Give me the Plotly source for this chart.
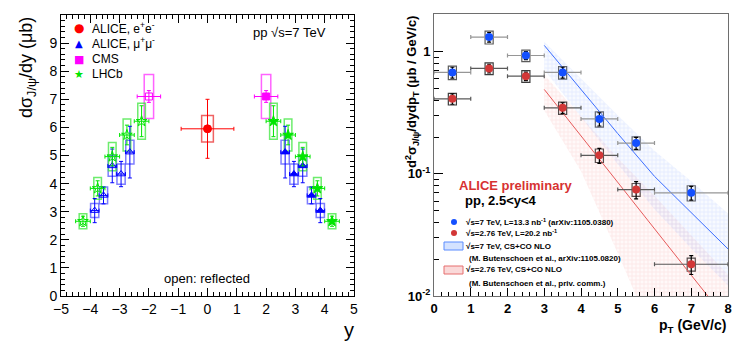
import plotly.graph_objects as go

W, H = 747, 353
OFF = 8  # the page body adds an 8 px margin, so the figure is drawn 8 px smaller
FW, FH = W - OFF, H - OFF

# ---------- left panel: dsigma/dy vs y, pp sqrt(s)=7 TeV ----------
ee_y = [0.0]
ee_val = [5.95]
ee_stat = [1.05]
ee_sys = [0.47]
ee_xerr = [0.9]

mumu_y = [2.65, 2.95, 3.25, 3.55, 3.85]
mumu_val = [5.12, 4.34, 4.63, 3.58, 3.04]
mumu_stat = [0.92, 0.45, 0.6, 0.3, 0.43]
mumu_sys = [0.42, 0.36, 0.37, 0.3, 0.25]
mumu_xerr = [0.15, 0.15, 0.15, 0.15, 0.15]

cms_y = [2.0]
cms_val = [7.1]
cms_stat = [0.21]
cms_sys = [0.78]
cms_xerr = [0.4]

lhcb_y = [2.25, 2.75, 3.25, 3.75, 4.25]
lhcb_val = [6.22, 5.73, 4.96, 3.83, 2.66]
lhcb_stat = [0.55, 0.35, 0.33, 0.27, 0.18]
lhcb_sys = [0.64, 0.57, 0.5, 0.39, 0.27]
lhcb_xerr = [0.25, 0.25, 0.25, 0.25, 0.25]

# ---------- right panel: d2sigma/dydpT vs pT, 2.5<y<4 ----------
pt = [0.5, 1.5, 2.5, 3.5, 4.5, 5.5, 7.0]
pt_err = [0.5, 0.5, 0.5, 0.5, 0.5, 0.5, 1.0]

s7_val = [0.678, 1.32, 0.933, 0.678, 0.282, 0.179, 0.070]
s7_stat = [0.07, 0.12, 0.07, 0.07, 0.035, 0.02, 0.009]
s7_sys = [0.085, 0.16, 0.10, 0.08, 0.04, 0.022, 0.010]

s276_val = [0.412, 0.731, 0.632, 0.348, 0.142, 0.0745, 0.0182]
s276_stat = [0.04, 0.06, 0.05, 0.035, 0.02, 0.012, 0.0032]
s276_sys = [0.045, 0.08, 0.07, 0.04, 0.018, 0.009, 0.0022]

# NLO CS+CO bands
pt_nlo = [3, 4, 5, 6, 7, 8]
nlo7_mid = [1.13, 0.49, 0.214, 0.0955, 0.0478, 0.0243]
nlo7_hi = [1.21, 0.603, 0.302, 0.155, 0.087, 0.0474]
nlo7_lo = [0.713, 0.295, 0.120, 0.0513, 0.0245, 0.0122]
nlo276_mid = [0.492, 0.204, 0.0851, 0.0355, 0.0148, 0.0062]
nlo276_hi = [0.649, 0.295, 0.135, 0.0661, 0.0316, 0.0149]
nlo276_lo = [0.331, 0.105, 0.0224, 0.0045, 0.0010, 0.0003]

FONT = "Liberation Sans"

fig = go.Figure()


def px_x(p):
    return (p - OFF) / FW


def px_y(p):
    return 1 - (p - OFF) / FH


def rapidity_series(y, val, stat, sys, xerr, color, box_color, symbol, size, box_w, reflect=True):
    sides = [(1, symbol)]
    if reflect:
        sides.append((-1, symbol + "-open"))
    for sign, sym in sides:
        ys = [sign * v for v in y]
        fig.add_trace(go.Bar(
            x=ys, y=[2 * s for s in sys], base=[v - s for v, s in zip(val, sys)],
            width=box_w, marker=dict(color="rgba(0,0,0,0)", line=dict(color=box_color, width=1.5)),
            xaxis="x", yaxis="y", showlegend=False, hoverinfo="skip"))
        fig.add_trace(go.Scatter(
            x=ys, y=val, mode="markers",
            marker=dict(symbol=sym, size=size, color=color, line=dict(color=color, width=1)),
            error_y=dict(type="data", array=stat, color=color, thickness=1, width=2),
            error_x=dict(type="data", array=xerr, color=color, thickness=1, width=2),
            xaxis="x", yaxis="y", showlegend=False))


rapidity_series(ee_y, ee_val, ee_stat, ee_sys, ee_xerr, "rgb(255,0,0)", "rgba(235,60,60,0.8)",
                "circle", 8, 0.4, reflect=False)
rapidity_series(mumu_y, mumu_val, mumu_stat, mumu_sys, mumu_xerr, "rgb(0,0,255)", "rgba(70,70,255,0.7)",
                "triangle-up", 7, 0.28)
rapidity_series(cms_y, cms_val, cms_stat, cms_sys, cms_xerr, "rgb(255,0,255)", "rgba(255,60,255,0.8)",
                "square", 7, 0.32)
rapidity_series(lhcb_y, lhcb_val, lhcb_stat, lhcb_sys, lhcb_xerr, "rgb(0,230,0)", "rgba(60,230,60,0.75)",
                "star", 8, 0.26)


# theory bands
def band(mid, hi, lo, fg, bg, line_color):
    fig.add_trace(go.Scatter(
        x=pt_nlo + pt_nlo[::-1], y=hi + lo[::-1], fill="toself", mode="lines",
        line=dict(width=0), fillcolor=bg,
        fillpattern=dict(shape="+", fgcolor=fg, bgcolor=bg, size=4, solidity=0.35),
        xaxis="x2", yaxis="y2", showlegend=False, hoverinfo="skip"))
    fig.add_trace(go.Scatter(x=pt_nlo, y=mid, mode="lines", line=dict(color=line_color, width=1),
                             xaxis="x2", yaxis="y2", showlegend=False))


band(nlo276_mid, nlo276_hi, nlo276_lo, "rgba(235,120,120,0.32)", "rgba(245,170,170,0.08)", "rgb(230,90,90)")
band(nlo7_mid, nlo7_hi, nlo7_lo, "rgba(110,150,255,0.32)", "rgba(160,190,255,0.08)", "rgb(60,110,255)")


def pt_series(val, stat, sys, color, xcolor, box_color):
    fig.add_trace(go.Bar(
        x=pt, y=[2 * s for s in sys], base=[v - s for v, s in zip(val, sys)], width=0.22,
        marker=dict(color="rgba(0,0,0,0)", line=dict(color=box_color, width=1.2)),
        xaxis="x2", yaxis="y2", showlegend=False, hoverinfo="skip"))
    fig.add_trace(go.Scatter(
        x=pt, y=val, mode="markers", marker=dict(symbol="circle", size=8, color=color),
        error_y=dict(type="data", array=stat, color="black", thickness=1.2, width=2),
        error_x=dict(type="data", array=pt_err, color=xcolor, thickness=1.2, width=2),
        xaxis="x2", yaxis="y2", showlegend=False))


pt_series(s276_val, s276_stat, s276_sys, "rgb(210,55,55)", "rgb(90,90,90)", "rgb(60,60,60)")
pt_series(s7_val, s7_stat, s7_sys, "rgb(20,80,255)", "rgb(150,150,150)", "rgb(90,90,90)")

# ---------- axes ----------
tick_font = dict(family=FONT, size=14, color="black")
bold_tick = dict(family=FONT, size=13, color="black", weight="bold")

fig.update_layout(
    width=FW, height=FH, margin=dict(l=0, r=0, t=0, b=0, autoexpand=False),
    paper_bgcolor="white", plot_bgcolor="white", barmode="overlay", showlegend=False,
    xaxis=dict(domain=[px_x(61), px_x(354)], range=[-5, 5], anchor="y", automargin=False,
               tick0=-5, dtick=1, ticks="inside", ticklen=8, tickcolor="black",
               minor=dict(ticks="inside", ticklen=4, dtick=0.2, tickcolor="black"),
               showline=True, linecolor="black", linewidth=1, mirror="allticks",
               showgrid=False, zeroline=False, tickfont=tick_font),
    yaxis=dict(domain=[px_y(296), px_y(15)], range=[0, 10], anchor="x", automargin=False,
               dtick=1, ticks="inside", ticklen=8, tickcolor="black",
               minor=dict(ticks="inside", ticklen=4, dtick=0.2, tickcolor="black"),
               showline=True, linecolor="black", linewidth=1, mirror="allticks",
               showgrid=False, zeroline=False, tickfont=tick_font),
    xaxis2=dict(domain=[px_x(434), px_x(728)], range=[0, 8], anchor="y2", automargin=False,
                dtick=1, ticks="inside", ticklen=8, tickcolor="black",
                minor=dict(ticks="inside", ticklen=4, dtick=0.2, tickcolor="black"),
                showline=True, linecolor="rgb(110,110,110)", linewidth=1, mirror=True,
                showgrid=False, zeroline=False, tickfont=bold_tick),
    yaxis2=dict(domain=[px_y(296), px_y(14)], type="log", range=[-2, 0.31], anchor="x2",
                automargin=False,
                tickvals=[0.01, 0.1, 1], ticktext=["10<sup>-2</sup>", "10<sup>-1</sup>", "1"],
                ticks="inside", ticklen=9, tickcolor="black",
                minor=dict(ticks="inside", ticklen=5, tickcolor="black",
                           tickvals=[m * 10 ** e for e in (-2, -1, 0) for m in range(2, 10) if m * 10 ** e < 2]),
                showline=True, linecolor="rgb(110,110,110)", linewidth=1, mirror=True,
                showgrid=False, zeroline=False, tickfont=bold_tick),
)

# ---------- text ----------
ann = []


def text(t, x, y, size, color="black", bold=False, xanchor="center", angle=0, family=FONT):
    ann.append(dict(text=t, x=px_x(x), y=px_y(y), xanchor=xanchor, yanchor="middle", textangle=angle,
                    font=dict(family=family, size=size, color=color, weight="bold" if bold else "normal")))


text("dσ<sub>J/ψ</sub>/dy (μb)", 27, 68, 18, angle=-90)
text("y", 349, 330, 20)
text("pp √s=7 TeV", 251, 33, 13, xanchor="left")
text("open: reflected", 207, 278, 13)

# left legend
left_keys = [
    ("●", "rgb(255,0,0)", 12, "ALICE, e<sup>+</sup>e<sup>-</sup>", 28),
    ("▲", "rgb(0,0,255)", 10, "ALICE, μ<sup>+</sup>μ<sup>-</sup>", 43),
    ("■", "rgb(255,0,255)", 11, "CMS", 59),
    ("★", "rgb(0,230,0)", 11, "LHCb", 74),
]
for glyph, col, gsize, label, yy in left_keys:
    text(glyph, 79, yy, gsize, color=col, family="DejaVu Sans")
    text(label, 90, yy, 12, xanchor="left")

text("d<sup>2</sup>σ<sub>J/ψ</sub>/dydp<sub>T</sub> (μb / GeV/c)", 412, 92, 13, bold=True, angle=-90)
text("p<sub>T</sub> (GeV/c)", 728, 326, 14, bold=True, xanchor="right")
text("ALICE preliminary", 457, 185, 13, color="rgb(215,50,50)", bold=True, xanchor="left")
text("pp, 2.5&lt;y&lt;4", 463, 201, 13, bold=True, xanchor="left")

leg_rows = [
    ("√s=7 TeV, L=13.3 nb<sup>-1</sup> (arXiv:1105.0380)", 464, 222),
    ("√s=2.76 TeV, L=20.2 nb<sup>-1</sup>", 464, 233),
    ("√s=7 TeV, CS+CO NLO", 464, 246),
    ("(M. Butenschoen et al., arXiv:1105.0820)", 467, 259),
    ("√s=2.76 TeV, CS+CO NLO", 464, 269),
    ("(M. Butenschoen et al., priv. comm.)", 467, 283),
]
for t, x0, y0 in leg_rows:
    text(t, x0, y0, 8, bold=True, xanchor="left")

for a in ann:
    a.update(xref="paper", yref="paper", showarrow=False)
fig.update_layout(annotations=ann)

# legend keys for the right panel
shapes = [
    dict(type="circle", x0=px_x(451), x1=px_x(457), y0=px_y(219), y1=px_y(225),
         fillcolor="rgb(20,80,255)", line=dict(width=0)),
    dict(type="circle", x0=px_x(451), x1=px_x(457), y0=px_y(230), y1=px_y(236),
         fillcolor="rgb(210,55,55)", line=dict(width=0)),
    dict(type="rect", x0=px_x(444), x1=px_x(463), y0=px_y(242), y1=px_y(250),
         fillcolor="rgba(160,190,255,0.45)", line=dict(color="rgb(90,140,255)", width=1)),
    dict(type="rect", x0=px_x(444), x1=px_x(463), y0=px_y(266), y1=px_y(274),
         fillcolor="rgba(245,170,170,0.45)", line=dict(color="rgb(230,110,110)", width=1)),
]
for s in shapes:
    s.update(xref="paper", yref="paper")
fig.update_layout(shapes=shapes)

fig.write_html("out.html")
